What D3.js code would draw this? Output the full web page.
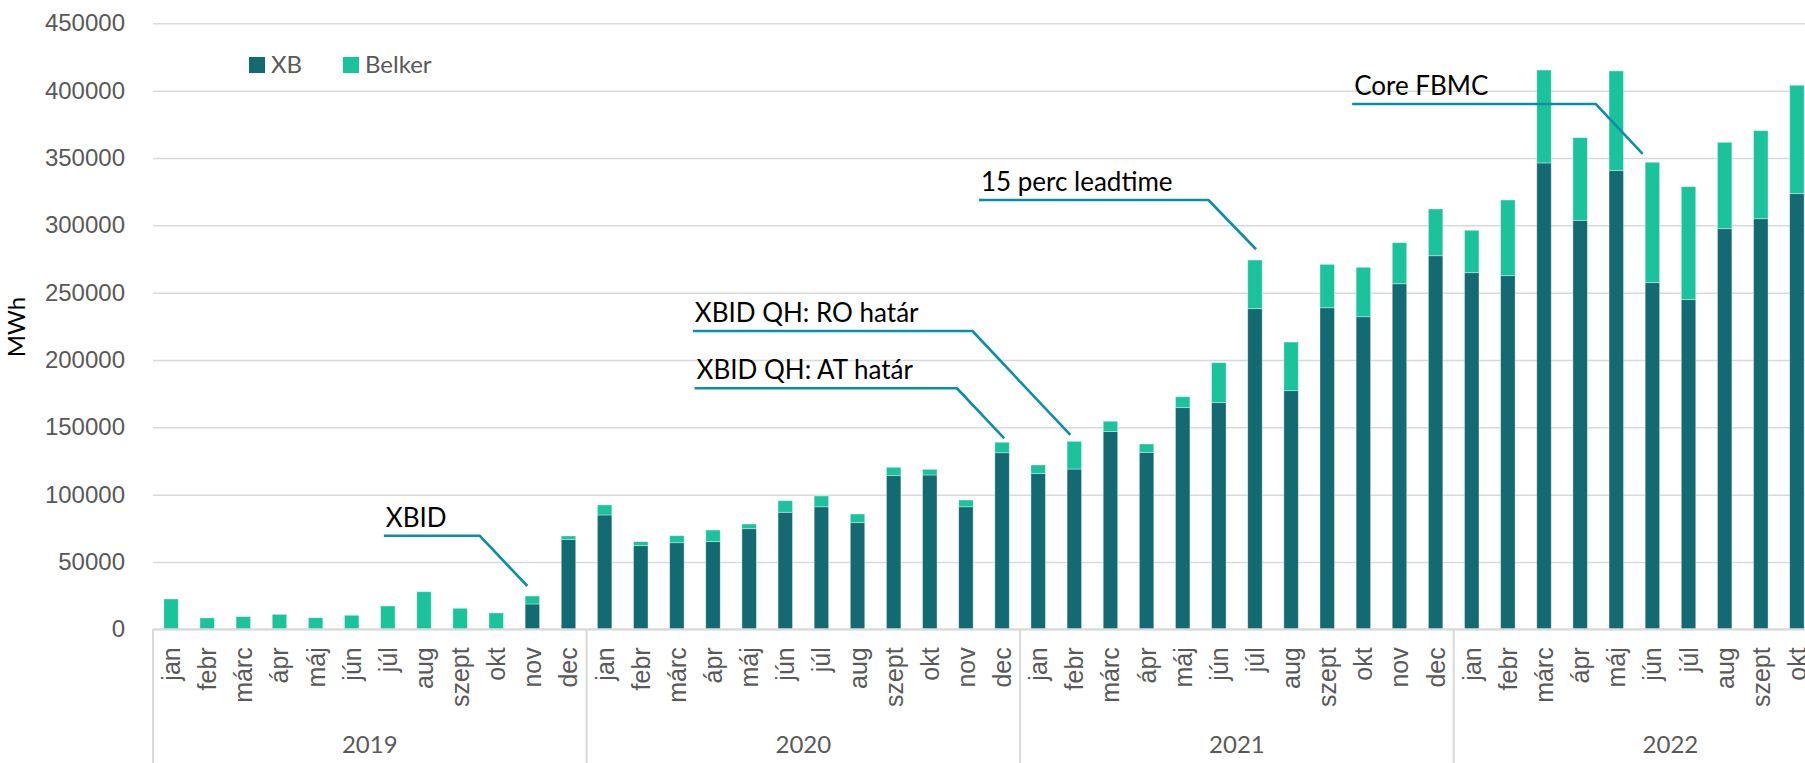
<!DOCTYPE html>
<html>
<head>
	<title>XB / Belker</title>
	<style type="text/css">
		body { margin: 0; overflow: hidden; background: #fff; }
		svg { font-family: Lato, "Open Sans", sans-serif; }
		.grid line { stroke: #d9d9d9; stroke-width: 1.5; }
		.tick text { fill: #595959; }
		.ann { fill: none; stroke: #0b8fa9; stroke-width: 2.6; stroke-linejoin: round; }
	</style>
</head>
<body>
	<div id="chart"></div>
	<script src="https://cdnjs.cloudflare.com/ajax/libs/d3/7.8.5/d3.min.js"></script>
	<script type="text/javascript">
		var years = ["2019", "2020", "2021", "2022"];
		var monthNames = ["jan", "febr", "márc", "ápr", "máj", "jún", "júl", "aug", "szept", "okt", "nov", "dec"];
		var monthsPerYear = [12, 12, 12, 10];

		// MWh
		var xb = [
			0, 0, 0, 0, 0, 0, 0, 0, 0, 0, 18800, 66800,
			84900, 62100, 64300, 65100, 74700, 86900, 91000, 79200, 114100, 114600, 91000, 131100,
			115600, 119000, 146800, 131400, 164600, 168300, 238100, 177200, 238800, 232100, 256600, 277400,
			264800, 262600, 346300, 303700, 340600, 257400, 244800, 297500, 304900, 323500
		];
		var belker = [
			22500, 8400, 9400, 11100, 8600, 10400, 17300, 27900, 15600, 12100, 5900, 2500,
			7400, 3000, 5200, 8600, 3500, 8600, 8000, 6400, 6200, 4200, 5000, 7800,
			6400, 20600, 7700, 6200, 8100, 29700, 36100, 36100, 32200, 36700, 30500, 34700,
			31500, 56200, 69000, 61400, 74000, 89400, 83900, 64100, 65400, 80500
		];
		var yTicks = [0, 50000, 100000, 150000, 200000, 250000, 300000, 350000, 400000, 450000];

		// annotations: month-index positions and MWh levels of the leader lines
		var annLabels = ["XBID", "XBID QH: AT határ", "XBID QH: RO határ", "15 perc leadtime", "Core FBMC"];
		var annStart = [6.39, 14.99, 14.94, 22.86, 33.19];
		var annKink = [9.04, 22.25, 22.68, 29.21, 39.93];
		var annEnd = [10.36, 23.56, 25.39, 30.53, 41.23];
		var annLevel = [69500, 179000, 221500, 318800, 390100];
		var annTip = [32150, 141800, 144300, 282200, 353000];

		var seriesKeys = ["XB", "Belker"];
		var colors = { XB: "#136a73", Belker: "#1bc39c" };

		var width = 1805, height = 763;
		var plotLeft = 153, band = 36.13, n = xb.length;
		var plotRight = plotLeft + band * n;
		var plotTop = 23.3, plotBottom = 629.3;

		var rows = xb.map(function(v, i) { return { i: i, XB: v, Belker: belker[i] }; });
		var monthLabels = [];
		monthsPerYear.forEach(function(c) { for (var k = 0; k < c; k++) monthLabels.push(monthNames[k]); });

		var svg = d3.select("#chart").append("svg")
			.attr("width", width)
			.attr("height", height);

		var x = d3.scaleBand()
			.domain(d3.range(n))
			.range([plotLeft, plotRight])
			.paddingInner(0.6)
			.paddingOuter(0.3);
		var xi = d3.scaleLinear().domain([0, n]).range([plotLeft, plotRight]);
		var y = d3.scaleLinear().domain([0, 450000]).range([plotBottom, plotTop]);

		// gridlines + y labels
		var yAxis = svg.append("g")
			.attr("class", "grid")
			.attr("transform", "translate(" + plotLeft + ",0)")
			.call(d3.axisLeft(y).tickValues(yTicks).tickFormat(d3.format("d"))
				.tickSize(-(plotRight - plotLeft)).tickPadding(28));
		yAxis.select(".domain").remove();
		yAxis.selectAll("text").attr("font-size", 24).attr("fill", "#595959");

		svg.append("text")
			.attr("transform", "translate(25,327) rotate(-90)")
			.attr("text-anchor", "middle")
			.attr("font-size", 24)
			.attr("fill", "#000")
			.text("MWh");

		// stacked bars
		var stacked = d3.stack().keys(seriesKeys)(rows);
		svg.append("g").selectAll("g")
			.data(stacked)
			.enter().append("g")
			.attr("fill", function(d) { return colors[d.key]; })
			.selectAll("rect")
			.data(function(d) { return d; })
			.enter().append("rect")
			.attr("x", function(d) { return x(d.data.i); })
			.attr("width", x.bandwidth())
			.attr("y", function(d) { return y(d[1]); })
			.attr("height", function(d) { return Math.max(0, y(d[0]) - y(d[1])); })
			.attr("stroke", "#ffffff")
			.attr("stroke-opacity", 0.45)
			.attr("stroke-width", 0.8);

		// category axis
		svg.append("line")
			.attr("x1", plotLeft).attr("x2", plotRight)
			.attr("y1", plotBottom).attr("y2", plotBottom)
			.attr("stroke", "#d9d9d9").attr("stroke-width", 2);

		var xAxis = svg.append("g")
			.attr("transform", "translate(0," + plotBottom + ")")
			.call(d3.axisBottom(x).tickSize(0).tickFormat(function(i) { return monthLabels[i]; }));
		xAxis.select(".domain").remove();
		xAxis.selectAll("text")
			.attr("transform", "rotate(-90)")
			.attr("x", -18)
			.attr("y", 0)
			.attr("dy", "0.36em")
			.attr("text-anchor", "end")
			.attr("font-size", 25)
			.attr("fill", "#595959");

		var yearStart = [0];
		monthsPerYear.forEach(function(c, k) { yearStart.push(yearStart[k] + c); });

		svg.append("g").selectAll("line")
			.data(yearStart)
			.enter().append("line")
			.attr("x1", function(d) { return xi(d); })
			.attr("x2", function(d) { return xi(d); })
			.attr("y1", plotBottom)
			.attr("y2", height)
			.attr("stroke", "#d9d9d9")
			.attr("stroke-width", 2);

		svg.append("g").selectAll("text")
			.data(years)
			.enter().append("text")
			.attr("x", function(d, k) { return xi(yearStart[k] + 6); })
			.attr("y", 753)
			.attr("text-anchor", "middle")
			.attr("font-size", 24)
			.attr("fill", "#595959")
			.text(function(d) { return d; });

		// legend
		var legend = svg.append("g").attr("transform", "translate(249,57)");
		var legX = [0, 94];
		seriesKeys.forEach(function(k, j) {
			legend.append("rect")
				.attr("x", legX[j]).attr("y", 0)
				.attr("width", 16).attr("height", 16)
				.attr("fill", colors[k]);
			legend.append("text")
				.attr("x", legX[j] + 22).attr("y", 15.5)
				.attr("font-size", 24)
				.attr("fill", "#595959")
				.text(k);
		});

		// annotations
		var ann = svg.append("g");
		annLabels.forEach(function(label, k) {
			var pts = [
				[xi(annStart[k]), y(annLevel[k])],
				[xi(annKink[k]), y(annLevel[k])],
				[xi(annEnd[k]), y(annTip[k])]
			];
			ann.append("path")
				.attr("class", "ann")
				.attr("d", d3.line()(pts));
			ann.append("text")
				.attr("x", pts[0][0] + 2)
				.attr("y", pts[0][1] - 9)
				.attr("font-size", 26)
				.attr("fill", "#000")
				.text(label);
		});
	</script>
</body>
</html>
